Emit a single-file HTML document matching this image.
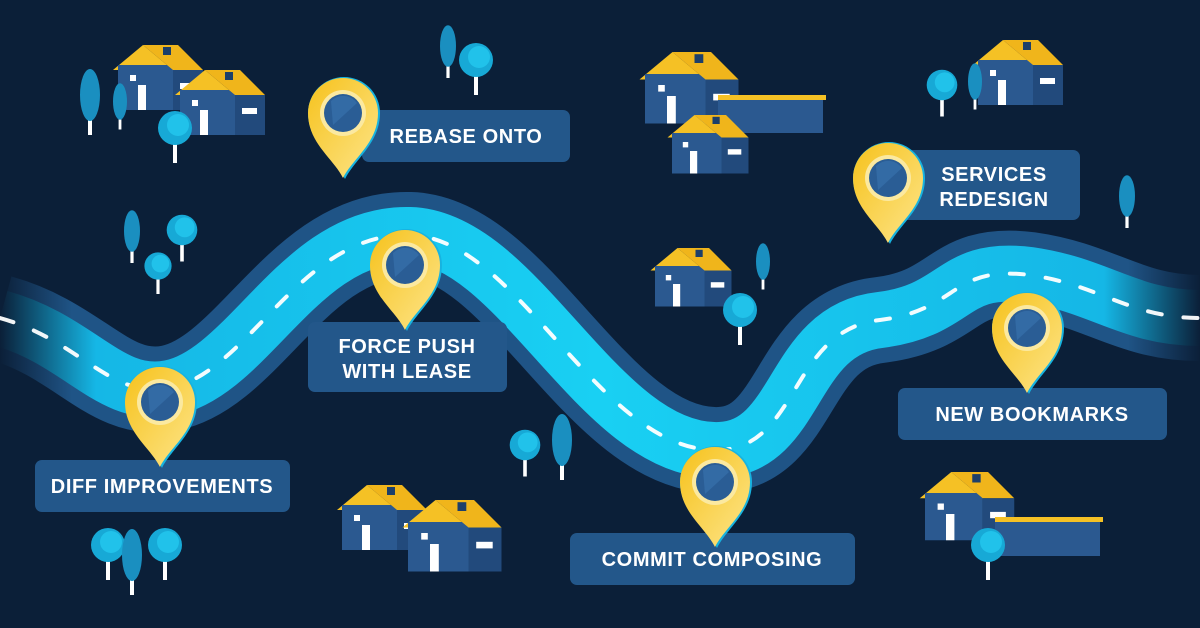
<!DOCTYPE html>
<html><head><style>html,body{margin:0;padding:0;background:#0b1f38;}svg{display:block}
text{font-family:"Liberation Sans",sans-serif;font-weight:bold;fill:#fff;font-size:20px;letter-spacing:0.6px}</style></head>
<body>
<svg width="1200" height="628" viewBox="0 0 1200 628" xmlns="http://www.w3.org/2000/svg">
<defs>
<linearGradient id="rd" x1="0" x2="1"><stop offset="0" stop-color="#0b1f38"/><stop offset="0.08" stop-color="#15b7e6"/><stop offset="0.5" stop-color="#19d0f3"/><stop offset="0.92" stop-color="#15b7e6"/><stop offset="1" stop-color="#0b1f38"/></linearGradient>
<linearGradient id="ro" x1="0" x2="1"><stop offset="0" stop-color="#0b1f38"/><stop offset="0.06" stop-color="#1f5486"/><stop offset="0.94" stop-color="#1f5486"/><stop offset="1" stop-color="#0b1f38"/></linearGradient>
<linearGradient id="py" x1="0" y1="0" x2="1" y2="1"><stop offset="0" stop-color="#f6c21c"/><stop offset="1" stop-color="#fde58a"/></linearGradient>
<g id="pin"><path d="M2,66 C-8,46 -35,30 -35,0 A36,36 0 1 1 37,0 C37,30 12,46 2,66Z" fill="#17b3e0"/><path d="M0,65 C-10,45 -35,30 -35,0 A35,35 0 1 1 35,0 C35,30 10,45 0,65Z" fill="url(#py)"/><circle r="23" fill="#fbe9a0"/><circle r="19" fill="#2a5d95"/><path d="M-12,-12 A17,17 0 0 1 14,-10 L-10,12Z" fill="#3a75b0" opacity=".6"/></g>
<g id="house"><polygon points="-5,25 25,0 55,25" fill="#f5c125"/><rect x="0" y="20" width="55" height="45" fill="#2b5990"/><polygon points="25,0 60,0 85,25 55,25" fill="#f0b51b"/><rect x="55" y="25" width="30" height="40" fill="#224a7c"/><rect x="20" y="40" width="8" height="25" fill="#fff"/><rect x="12" y="30" width="6" height="6" fill="#fff"/><rect x="62" y="38" width="15" height="6" fill="#fff"/><rect x="45" y="2" width="8" height="8" fill="#1d3f6a"/></g>
<g id="tree"><rect x="-2" y="10" width="4" height="25" fill="#fff"/><circle r="17" fill="#17a9d6"/><circle cx="3" cy="-3" r="11" fill="#21c2ea"/></g>
<g id="ptree"><rect x="-2" y="10" width="4" height="25" fill="#fff"/><ellipse rx="10" ry="26" cy="-5" fill="#1a8fc0"/></g>
</defs>
<rect width="1200" height="628" fill="#0b1f38"/>
<path d="M0,318 C80,340 110,400 170,388 C250,372 300,232 410,235 C520,238 600,455 720,450 C800,446 790,330 880,320 C960,310 950,265 1030,275 C1100,285 1130,318 1200,318" fill="none" stroke="url(#ro)" stroke-width="86"/>
<path d="M0,318 C80,340 110,400 170,388 C250,372 300,232 410,235 C520,238 600,455 720,450 C800,446 790,330 880,320 C960,310 950,265 1030,275 C1100,285 1130,318 1200,318" fill="none" stroke="url(#rd)" stroke-width="56"/>
<path d="M0,318 C80,340 110,400 170,388 C250,372 300,232 410,235 C520,238 600,455 720,450 C800,446 790,330 880,320 C960,310 950,265 1030,275 C1100,285 1130,318 1200,318" fill="none" stroke="#fff" stroke-width="4" stroke-dasharray="14 22" stroke-linecap="round" opacity=".95"/>
<use href="#house" transform="translate(118,45)"/><use href="#house" transform="translate(180,70)"/>
<use href="#house" transform="translate(645,52) scale(1.1)"/><rect x="718" y="97" width="105" height="36" fill="#2b5990"/><rect x="718" y="95" width="108" height="5" fill="#f5c125"/><use href="#house" transform="translate(672,115) scale(0.9)"/>
<use href="#house" transform="translate(978,40)"/>
<use href="#house" transform="translate(655,248) scale(0.9)"/>
<use href="#house" transform="translate(342,485)"/><use href="#house" transform="translate(408,500) scale(1.1)"/>
<use href="#house" transform="translate(925,472) scale(1.05)"/><rect x="995" y="520" width="105" height="36" fill="#2b5990"/><rect x="995" y="517" width="108" height="5" fill="#f5c125"/>
<use href="#ptree" transform="translate(90,100)"/><use href="#ptree" transform="translate(120,105) scale(.7)"/><use href="#tree" transform="translate(175,128)"/>
<use href="#ptree" transform="translate(448,50) scale(.8)"/><use href="#tree" transform="translate(476,60)"/>
<use href="#ptree" transform="translate(132,235) scale(.8)"/><use href="#tree" transform="translate(182,230) scale(.9)"/><use href="#tree" transform="translate(158,266) scale(.8)"/>
<use href="#tree" transform="translate(740,310)"/><use href="#ptree" transform="translate(763,265) scale(.7)"/>
<use href="#tree" transform="translate(942,85) scale(.9)"/><use href="#ptree" transform="translate(975,85) scale(.7)"/>
<use href="#ptree" transform="translate(1127,200) scale(.8)"/>
<use href="#tree" transform="translate(525,445) scale(.9)"/><use href="#ptree" transform="translate(562,445)"/>
<use href="#tree" transform="translate(108,545)"/><use href="#ptree" transform="translate(132,560)"/><use href="#tree" transform="translate(165,545)"/>
<use href="#tree" transform="translate(988,545)"/>
<rect x="35" y="460" width="255" height="52" rx="7" fill="#23578a"/><text x="162" y="493" text-anchor="middle">DIFF IMPROVEMENTS</text>
<rect x="362" y="110" width="208" height="52" rx="7" fill="#23578a"/><text x="466" y="143" text-anchor="middle">REBASE ONTO</text>
<rect x="308" y="322" width="199" height="70" rx="7" fill="#23578a"/><text x="407" y="353" text-anchor="middle">FORCE PUSH</text><text x="407" y="378" text-anchor="middle">WITH LEASE</text>
<rect x="570" y="533" width="285" height="52" rx="7" fill="#23578a"/><text x="712" y="566" text-anchor="middle">COMMIT COMPOSING</text>
<rect x="895" y="150" width="185" height="70" rx="7" fill="#23578a"/><text x="994" y="181" text-anchor="middle">SERVICES</text><text x="994" y="206" text-anchor="middle">REDESIGN</text>
<rect x="898" y="388" width="269" height="52" rx="7" fill="#23578a"/><text x="1032" y="421" text-anchor="middle">NEW BOOKMARKS</text>
<use href="#pin" transform="translate(160,402)"/>
<use href="#pin" transform="translate(343,113)"/>
<use href="#pin" transform="translate(405,265)"/>
<use href="#pin" transform="translate(715,482)"/>
<use href="#pin" transform="translate(888,178)"/>
<use href="#pin" transform="translate(1027,328)"/>
</svg>
</body></html>
